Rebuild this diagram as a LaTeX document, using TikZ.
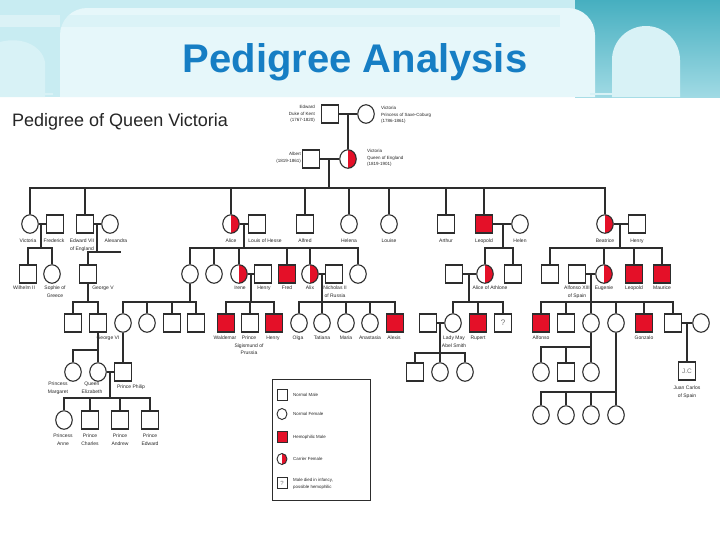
\documentclass[tikz,border=0pt]{standalone}
\usepackage{fontspec}
\setmainfont{Liberation Sans}
\usetikzlibrary{shapes.geometric,calc}
\definecolor{hred}{RGB}{228,16,40}
\definecolor{ttl}{RGB}{22,126,196}
\definecolor{lc}{RGB}{45,45,45}
\definecolor{bgc}{RGB}{200,236,242}
\definecolor{bgl}{RGB}{216,242,246}
\definecolor{panel}{RGB}{230,247,250}
\definecolor{tealA}{RGB}{70,175,192}
\definecolor{tealB}{RGB}{160,218,228}
\tikzset{
  ln/.style={draw=lc,line width=1.1pt},
  male/.style={rectangle,draw=lc,line width=1.1pt,fill=white,minimum width=17pt,minimum height=18pt,inner sep=0pt},
  fem/.style={ellipse,draw=lc,line width=1.1pt,fill=white,minimum width=16.5pt,minimum height=18.5pt,inner sep=0pt},
  hmale/.style={male,fill=hred},
  carrier/.style={fem,path picture={\fill[hred] (path picture bounding box.north) rectangle (path picture bounding box.south east);}},
  lbl/.style={font=\fontsize{5}{7.5}\selectfont,align=center,inner sep=0pt,text=black!85,anchor=north},
  tlbl/.style={font=\fontsize{4.5}{6.8}\selectfont,inner sep=0pt,text=black!85},
  lgs/.style={minimum width=10pt,minimum height=11pt,line width=0.9pt},
  lgt/.style={font=\fontsize{4.4}{6.4}\selectfont,inner sep=0pt,anchor=west,align=left,text=black!85},
}
\begin{document}
\begin{tikzpicture}[x=1pt,y=-1pt]
\useasboundingbox (0,0) rectangle (720,539);
% ---------- background ----------
\fill[white] (0,0) rectangle (720,539);
\fill[bgc] (0,0) rectangle (720,97);
\shade[top color=tealA,bottom color=tealB] (575,0) rectangle (720,97);
\fill[bgl] (0,97) -- (0,42) .. controls (22,36) and (42,46) .. (45,62) -- (45,97) -- cycle;
\fill[bgl] (612,97) -- (612,60) arc (180:360:34) -- (680,97) -- cycle;
\fill[panel] (60,97) -- (60,35) arc (180:270:27) -- (568,8) arc (270:360:27) -- (595,97) -- cycle;
\fill[white,opacity=0.35] (0,15) rectangle (60,27);
\fill[bgc,opacity=0.35] (60,15) rectangle (560,27);
\draw[bgc!70!white,line width=1.5pt] (27,94) -- (53,94);
\draw[bgc!70!white,line width=1.5pt] (590,94) -- (625,94);
% ---------- titles ----------
\node[font=\bfseries\fontsize{40}{40}\selectfont,text=ttl,anchor=base,inner sep=0pt] (title) at (355,72) {Pedigree Analysis};
\node[font=\fontsize{18}{18}\selectfont,text=black!85,anchor=base west,inner sep=0pt] (sub) at (12,126) {Pedigree of Queen Victoria};
% ---------- generation 0/1 ----------
\node[male] (edw0) at (330,114) {};
\node[fem] (vicp) at (366,114) {};
\node[male] (albert) at (311,159) {};
\node[carrier] (qv) at (348,159) {};
\node[tlbl,anchor=east,align=right] (edw0l) at (315,114) {Edward\\Duke of Kent\\(1767-1820)};
\node[tlbl,anchor=west,align=left] (vicpl) at (381,115) {Victoria\\Princess of Saxe-Coburg\\(1786-1861)};
\node[tlbl,anchor=east,align=right] (albertl) at (301,158) {Albert\\(1819-1861)};
\node[tlbl,anchor=west,align=left] (qvl) at (367,158) {Victoria\\Queen of England\\(1819-1901)};
\coordinate (j0) at (348,114);
\draw[ln] (edw0) -- (vicp);
\draw[ln] (j0) -- (qv);
\draw[ln] (albert) -- (qv);
\coordinate (j1) at (329,159);
\coordinate (s1) at (329,188);
\draw[ln] (j1) -- (s1);
% ---------- generation 2 ----------
\node[fem] (vicd) at (30,224) {};
\node[male] (fred) at (55,224) {};
\node[male] (edw7) at (85,224) {};
\node[fem] (alexa) at (110,224) {};
\node[carrier] (alice) at (231,224) {};
\node[male] (louis) at (257,224) {};
\node[male] (alfred) at (305,224) {};
\node[fem] (helena) at (349,224) {};
\node[fem] (louise) at (389,224) {};
\node[male] (arthur) at (446,224) {};
\node[hmale] (leo) at (484,224) {};
\node[fem] (helen) at (520,224) {};
\node[carrier] (bea) at (605,224) {};
\node[male] (henryb) at (637,224) {};
\draw[ln] (vicd.north) |- (s1) -| (bea.north);
\foreach \n in {edw7,alice,alfred,helena,louise,arthur,leo}
  \draw[ln] (\n.north) -- (\n.north |- s1);
\node[lbl] (l1) at (28,239) {Victoria};
\node[lbl] (l2) at (54,239) {Frederick};
\node[lbl] (l3) at (82,239) {Edward VII\\of England};
\node[lbl] (l4) at (116,239) {Alexandra};
\node[lbl] (l5) at (231,239) {Alice};
\node[lbl] (l6) at (265,239) {Louis of Hesse};
\node[lbl] (l7) at (305,239) {Alfred};
\node[lbl] (l8) at (349,239) {Helena};
\node[lbl] (l9) at (389,239) {Louise};
\node[lbl] (l10) at (446,239) {Arthur};
\node[lbl] (l11) at (484,239) {Leopold};
\node[lbl] (l12) at (520,239) {Helen};
\node[lbl] (l13) at (605,239) {Beatrice};
\node[lbl] (l14) at (637,239) {Henry};
% marriages gen 2
\draw[ln] (vicd) -- (fred);
\draw[ln] (edw7) -- (alexa);
\draw[ln] (alice) -- (louis);
\draw[ln] (leo) -- (helen);
\draw[ln] (bea) -- (henryb);
% ---------- generation 3 ----------
\node[male] (wilh) at (28,274) {};
\node[fem] (sophie) at (52,274) {};
\node[male] (g5) at (88,274) {};
\node[fem] (vh) at (190,274) {};
\node[fem] (a2) at (214,274) {};
\node[carrier] (irene) at (239,274) {};
\node[male] (henryi) at (263,274) {};
\node[hmale] (freda) at (287,274) {};
\node[carrier] (alix) at (310,274) {};
\node[male] (nich) at (334,274) {};
\node[fem] (a7) at (358,274) {};
\node[male] (athl) at (454,274) {};
\node[carrier] (alicea) at (485,274) {};
\node[male] (s7) at (513,274) {};
\node[male] (be1) at (550,274) {};
\node[male] (alf13) at (577,274) {};
\node[carrier] (eug) at (604,274) {};
\node[hmale] (leob) at (634,274) {};
\node[hmale] (maurice) at (662,274) {};
% descents gen2 -> gen3
\coordinate (j2) at (41,224); \coordinate (s2) at (41,248);
\draw[ln] (j2) -- (s2);
\draw[ln] (wilh.north) |- (s2) -| (sophie.north);
\coordinate (j3) at (97,224); \coordinate (s3) at (97,252); \coordinate (s3e) at (121,252);
\draw[ln] (j3) -- (s3);
\draw[ln] (g5.north) |- (s3e);
\coordinate (j4) at (244,224); \coordinate (s4) at (244,248);
\draw[ln] (j4) -- (s4);
\draw[ln] (vh.north) |- (s4) -| (a7.north);
\foreach \n in {a2,irene,freda,alix}
  \draw[ln] (\n.north) -- (\n.north |- s4);
\coordinate (j5) at (503,224); \coordinate (s5) at (503,248);
\draw[ln] (j5) -- (s5);
\draw[ln] (alicea.north) |- (s5) -| (s7.north);
\coordinate (j6) at (620,224); \coordinate (s6) at (620,248);
\draw[ln] (j6) -- (s6);
\draw[ln] (be1.north) |- (s6) -| (maurice.north);
\foreach \n in {eug,leob}
  \draw[ln] (\n.north) -- (\n.north |- s6);
% marriages gen 3
\draw[ln] (irene) -- (henryi);
\draw[ln] (alix) -- (nich);
\draw[ln] (athl) -- (alicea);
\draw[ln] (alf13) -- (eug);
% labels gen 3
\node[lbl] (m1) at (24,286) {Wilhelm II};
\node[lbl] (m2) at (55,286) {Sophie of\\Greece};
\node[lbl] (m3) at (103,286) {George V};
\node[lbl] (m4) at (240,286) {Irene};
\node[lbl] (m5) at (264,286) {Henry};
\node[lbl] (m6) at (287,286) {Fred};
\node[lbl] (m7) at (310,286) {Alix};
\node[lbl] (m8) at (335,286) {Nicholas II\\of Russia};
\node[lbl] (m9) at (490,286) {Alice of Athlone};
\node[lbl] (m10) at (577,286) {Alfonso XIII\\of Spain};
\node[lbl] (m11) at (604,286) {Eugenie};
\node[lbl] (m12) at (634,286) {Leopold};
\node[lbl] (m13) at (662,286) {Maurice};
% ---------- generation 4 ----------
\node[male] (c51) at (73,323) {};
\node[male] (g6) at (98,323) {};
\node[fem] (b1) at (123,323) {};
\node[fem] (b2) at (147,323) {};
\node[male] (b3) at (172,323) {};
\node[male] (b4) at (196,323) {};
\node[hmale] (wald) at (226,323) {};
\node[male] (sigis) at (250,323) {};
\node[hmale] (henryp) at (274,323) {};
\node[fem] (olga) at (299,323) {};
\node[fem] (tat) at (322,323) {};
\node[fem] (maria) at (346,323) {};
\node[fem] (anast) at (370,323) {};
\node[hmale] (alexis) at (395,323) {};
\node[male] (husb) at (428,323) {};
\node[fem] (lmay) at (453,323) {};
\node[hmale] (rupert) at (478,323) {};
\node[male,text=black!55,font=\fontsize{8}{8}\selectfont] (qm) at (503,323) {?};
\node[hmale] (alfo) at (541,323) {};
\node[male] (sp2) at (566,323) {};
\node[fem] (sp3) at (591,323) {};
\node[fem] (sp4) at (616,323) {};
\node[hmale] (gonz) at (644,323) {};
\node[male] (sp6) at (673,323) {};
\node[fem] (wife) at (701,323) {};
% descents gen3 -> gen4
\coordinate (s8) at (88,302);
\draw[ln] (g5.south) -- (s8);
\draw[ln] (c51.north) |- (s8) -| (g6.north);
\coordinate (s9) at (190,302);
\draw[ln] (vh.south) -- (s9);
\draw[ln] (b1.north) |- (s9) -| (b4.north);
\foreach \n in {b2,b3}
  \draw[ln] (\n.north) -- (\n.north |- s9);
\coordinate (j10) at (251,274); \coordinate (s10) at (251,302);
\draw[ln] (j10) -- (s10);
\draw[ln] (wald.north) |- (s10) -| (henryp.north);
\draw[ln] (sigis.north) -- (sigis.north |- s10);
\coordinate (j11) at (322,274); \coordinate (s11) at (322,302);
\draw[ln] (j11) -- (s11);
\draw[ln] (olga.north) |- (s11) -| (alexis.north);
\foreach \n in {tat,maria,anast}
  \draw[ln] (\n.north) -- (\n.north |- s11);
\coordinate (j12) at (469,274); \coordinate (s12) at (469,302);
\draw[ln] (j12) -- (s12);
\draw[ln] (lmay.north) |- (s12) -| (qm.north);
\draw[ln] (rupert.north) -- (rupert.north |- s12);
\coordinate (j13) at (591,274); \coordinate (s13) at (591,302);
\draw[ln] (j13) -- (s13);
\draw[ln] (alfo.north) |- (s13) -| (sp6.north);
\foreach \n in {sp2,sp3,sp4,gonz}
  \draw[ln] (\n.north) -- (\n.north |- s13);
% marriages gen 4
\draw[ln] (husb) -- (lmay);
\draw[ln] (sp6) -- (wife);
% labels gen 4
\node[lbl] (n1) at (108,336) {George VI};
\node[lbl] (n2) at (225,336) {Waldemar};
\node[lbl] (n3) at (249,336) {Prince\\Sigismund of\\Prussia};
\node[lbl] (n4) at (273,336) {Henry};
\node[lbl] (n5) at (298,336) {Olga};
\node[lbl] (n6) at (322,336) {Tatiana};
\node[lbl] (n7) at (346,336) {Maria};
\node[lbl] (n8) at (370,336) {Anastasia};
\node[lbl] (n9) at (394,336) {Alexis};
\node[lbl] (n10) at (454,336) {Lady May\\Abel Smith};
\node[lbl] (n11) at (478,336) {Rupert};
\node[lbl] (n12) at (541,336) {Alfonso};
\node[lbl] (n13) at (644,336) {Gonzalo};
% ---------- generation 5 ----------
\node[fem] (margaret) at (73,372) {};
\node[fem] (eliz) at (98,372) {};
\node[male] (philip) at (123,372) {};
\node[male] (k1) at (415,372) {};
\node[fem] (k2) at (440,372) {};
\node[fem] (k3) at (465,372) {};
\node[fem] (t1) at (541,372) {};
\node[male] (t2) at (566,372) {};
\node[fem] (t3) at (591,372) {};
\node[male,text=black!55,font=\fontsize{6.5}{6.5}\selectfont] (jc) at (687,371) {J.C};
\coordinate (s15) at (98,350);
\draw[ln] (g6.south) -- (eliz.north);
\draw[ln] (margaret.north) |- (s15);
\draw[ln] (b1.south) -- (philip.north);
\draw[ln] (eliz) -- (philip);
\coordinate (j14) at (440,323); \coordinate (s14) at (440,353);
\draw[ln] (j14) -- (s14);
\draw[ln] (k1.north) |- (s14) -| (k3.north);
\draw[ln] (k2.north) -- (k2.north |- s14);
\coordinate (s17) at (591,347);
\draw[ln] (sp3.south) -- (t3.north);
\draw[ln] (t1.north) |- (s17);
\draw[ln] (t2.north) -- (t2.north |- s17);
\coordinate (j18) at (687,323);
\draw[ln] (j18) -- (jc.north);
\node[lbl] (o1) at (58,382) {Princess\\Margaret};
\node[lbl] (o2) at (92,382) {Queen\\Elizabeth};
\node[lbl] (o3) at (131,385) {Prince Philip};
\node[lbl] (o4) at (687,386) {Juan Carlos\\of Spain};
% ---------- generation 6 ----------
\node[fem] (anne) at (64,420) {};
\node[male] (charles) at (90,420) {};
\node[male] (andrew) at (120,420) {};
\node[male] (edwp) at (150,420) {};
\node[fem] (u1) at (541,415) {};
\node[fem] (u2) at (566,415) {};
\node[fem] (u3) at (591,415) {};
\node[fem] (u4) at (616,415) {};
\coordinate (j16) at (110,372); \coordinate (s16) at (110,398);
\draw[ln] (j16) -- (s16);
\draw[ln] (anne.north) |- (s16) -| (edwp.north);
\foreach \n in {charles,andrew}
  \draw[ln] (\n.north) -- (\n.north |- s16);
\coordinate (s19) at (616,392);
\draw[ln] (sp4.south) -- (u4.north);
\draw[ln] (u1.north) |- (s19);
\foreach \n in {u2,u3}
  \draw[ln] (\n.north) -- (\n.north |- s19);
\node[lbl] (p1) at (63,434) {Princess\\Anne};
\node[lbl] (p2) at (90,434) {Prince\\Charles};
\node[lbl] (p3) at (120,434) {Prince\\Andrew};
\node[lbl] (p4) at (150,434) {Prince\\Edward};
% ---------- legend ----------
\node[draw=lc,line width=0.9pt,minimum width=98pt,minimum height=121pt,inner sep=0pt] (legend) at (321,440) {};
\node[male,lgs] (lg1) at (282,395) {};
\node[fem,lgs] (lg2) at (282,414) {};
\node[hmale,lgs] (lg3) at (282,437) {};
\node[carrier,lgs] (lg4) at (282,459) {};
\node[male,lgs,text=black!55,font=\fontsize{6}{6}\selectfont] (lg5) at (282,483) {?};
\node[lgt] (lt1) at (293,395) {Normal Male};
\node[lgt] (lt2) at (293,414) {Normal Female};
\node[lgt] (lt3) at (293,437) {Hemophilic Male};
\node[lgt] (lt4) at (293,459) {Carrier Female};
\node[lgt] (lt5) at (293,484) {Male died in infancy,\\possible hemophilic};
\end{tikzpicture}
\end{document}
